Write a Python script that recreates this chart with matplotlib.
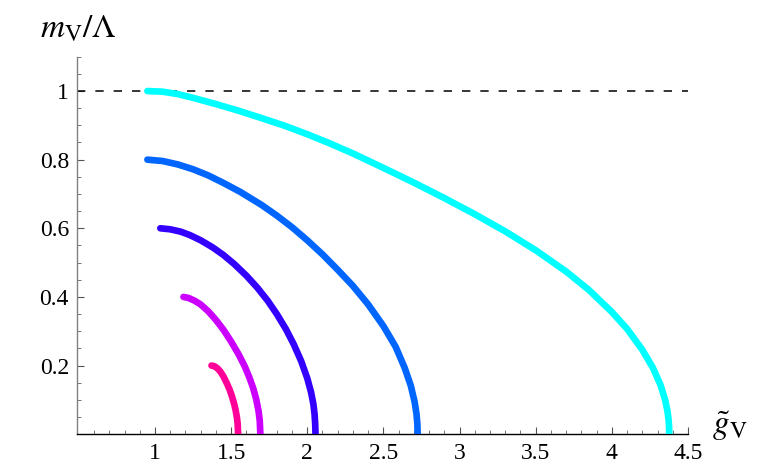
import matplotlib
matplotlib.use("Agg")
import matplotlib.pyplot as plt
from matplotlib.ticker import MultipleLocator, FixedLocator

# ---- data (read / estimated from the reference) ----
cyan_g = [0.95, 1.05, 1.15, 1.25, 1.40, 1.56, 1.70, 1.85, 2.00, 2.15, 2.30, 2.50,
          2.70, 2.90, 3.10, 3.30, 3.50, 3.70, 3.85, 4.00, 4.10, 4.20, 4.27, 4.32,
          4.35, 4.365, 4.372, 4.376, 4.377]
cyan_m = [1.000, 0.998, 0.991, 0.980, 0.962, 0.941, 0.921, 0.899, 0.874, 0.847, 0.818,
          0.776, 0.733, 0.688, 0.641, 0.591, 0.536, 0.474, 0.420, 0.356, 0.307,
          0.246, 0.193, 0.143, 0.100, 0.068, 0.045, 0.020, 0.0]

blue_g = [0.95, 1.05, 1.15, 1.25, 1.35, 1.45, 1.56, 1.70, 1.80, 1.90, 2.00, 2.10,
          2.20, 2.30, 2.40, 2.50, 2.58, 2.64, 2.68, 2.705, 2.717, 2.723, 2.725]
blue_m = [0.800, 0.796, 0.786, 0.772, 0.754, 0.732, 0.706, 0.668, 0.637, 0.603, 0.565,
          0.524, 0.479, 0.432, 0.378, 0.315, 0.255, 0.193, 0.141, 0.094, 0.060, 0.030, 0.0]

indigo_g = [1.035, 1.10, 1.17, 1.23, 1.30, 1.38, 1.45, 1.52, 1.60, 1.67, 1.74, 1.80,
            1.86, 1.91, 1.96, 2.00, 2.025, 2.04, 2.048, 2.052, 2.054]
indigo_m = [0.600, 0.597, 0.590, 0.580, 0.565, 0.544, 0.522, 0.496, 0.462, 0.428,
            0.389, 0.350, 0.306, 0.263, 0.213, 0.163, 0.122, 0.088, 0.058, 0.030, 0.0]

purple_g = [1.187, 1.22, 1.26, 1.30, 1.35, 1.40, 1.45, 1.50, 1.55, 1.59, 1.62,
            1.645, 1.665, 1.68, 1.688, 1.692]
purple_m = [0.400, 0.397, 0.389, 0.378, 0.358, 0.333, 0.304, 0.270, 0.232, 0.197,
            0.165, 0.134, 0.101, 0.068, 0.039, 0.0]

pink_g = [1.371, 1.39, 1.41, 1.43, 1.45, 1.47, 1.49, 1.505, 1.52, 1.53, 1.538,
          1.543, 1.546]
pink_m = [0.200, 0.198, 0.192, 0.182, 0.168, 0.150, 0.130, 0.111, 0.088, 0.069,
          0.049, 0.030, 0.0]

x_ticks = [1, 1.5, 2, 2.5, 3, 3.5, 4, 4.5]
x_tick_labels = ["1", "1.5", "2", "2.5", "3", "3.5", "4", "4.5"]
y_ticks = [0.2, 0.4, 0.6, 0.8, 1.0]
y_tick_labels = ["0.2", "0.4", "0.6", "0.8", "1"]
dash_level = 1.0

series = [
    (cyan_g, cyan_m, "#00FFFF"),
    (blue_g, blue_m, "#0066FF"),
    (indigo_g, indigo_m, "#3300FF"),
    (purple_g, purple_m, "#CC00FF"),
    (pink_g, pink_m, "#FF0099"),
]

plt.rcParams["mathtext.fontset"] = "stix"
plt.rcParams["font.family"] = ["Liberation Serif", "DejaVu Serif"]
plt.rcParams["lines.scale_dashes"] = False

fig = plt.figure(figsize=(7.64, 4.72), dpi=100)
ax = fig.add_axes([0.1012, 0.0801, 0.7993, 0.7998])
ax.set_xlim(0.49, 4.5)
ax.set_ylim(0, 1.1)

ax.plot([0.49, 4.5], [dash_level, dash_level], color="black", lw=1.1,
        dashes=(6.0, 7.2), zorder=2)

for g, m, c in series:
    ax.plot(g, m, color=c, lw=4.8, solid_capstyle="round",
            solid_joinstyle="round", zorder=3)

for s in ["top", "right"]:
    ax.spines[s].set_visible(False)
ax.spines["bottom"].set_color("black")
ax.spines["bottom"].set_linewidth(1.0)
ax.spines["left"].set_color("#808080")
ax.spines["left"].set_linewidth(1.0)

ax.xaxis.set_major_locator(FixedLocator(x_ticks))
ax.set_xticklabels(x_tick_labels)
minor_x = [round(0.6 + 0.1 * i, 2) for i in range(40)]
ax.xaxis.set_minor_locator(FixedLocator([v for v in minor_x if v <= 4.5]))
ax.yaxis.set_major_locator(FixedLocator(y_ticks))
ax.set_yticklabels(y_tick_labels)
ax.yaxis.set_minor_locator(MultipleLocator(0.05))

ax.tick_params(axis="both", which="major", direction="in", length=5,
               width=0.8, color="#555555", labelsize=17, pad=6)
ax.tick_params(axis="both", which="minor", direction="in", length=3,
               width=0.7, color="#777777")

fig.text(0.052, 0.937, r"$m_{\rm V}/\Lambda$", fontsize=24, ha="left", va="center")
fig.text(0.932, 0.098, r"$\tilde{g}_{\rm V}$", fontsize=24, ha="left", va="center")

fig.savefig("out.png", dpi=100)
